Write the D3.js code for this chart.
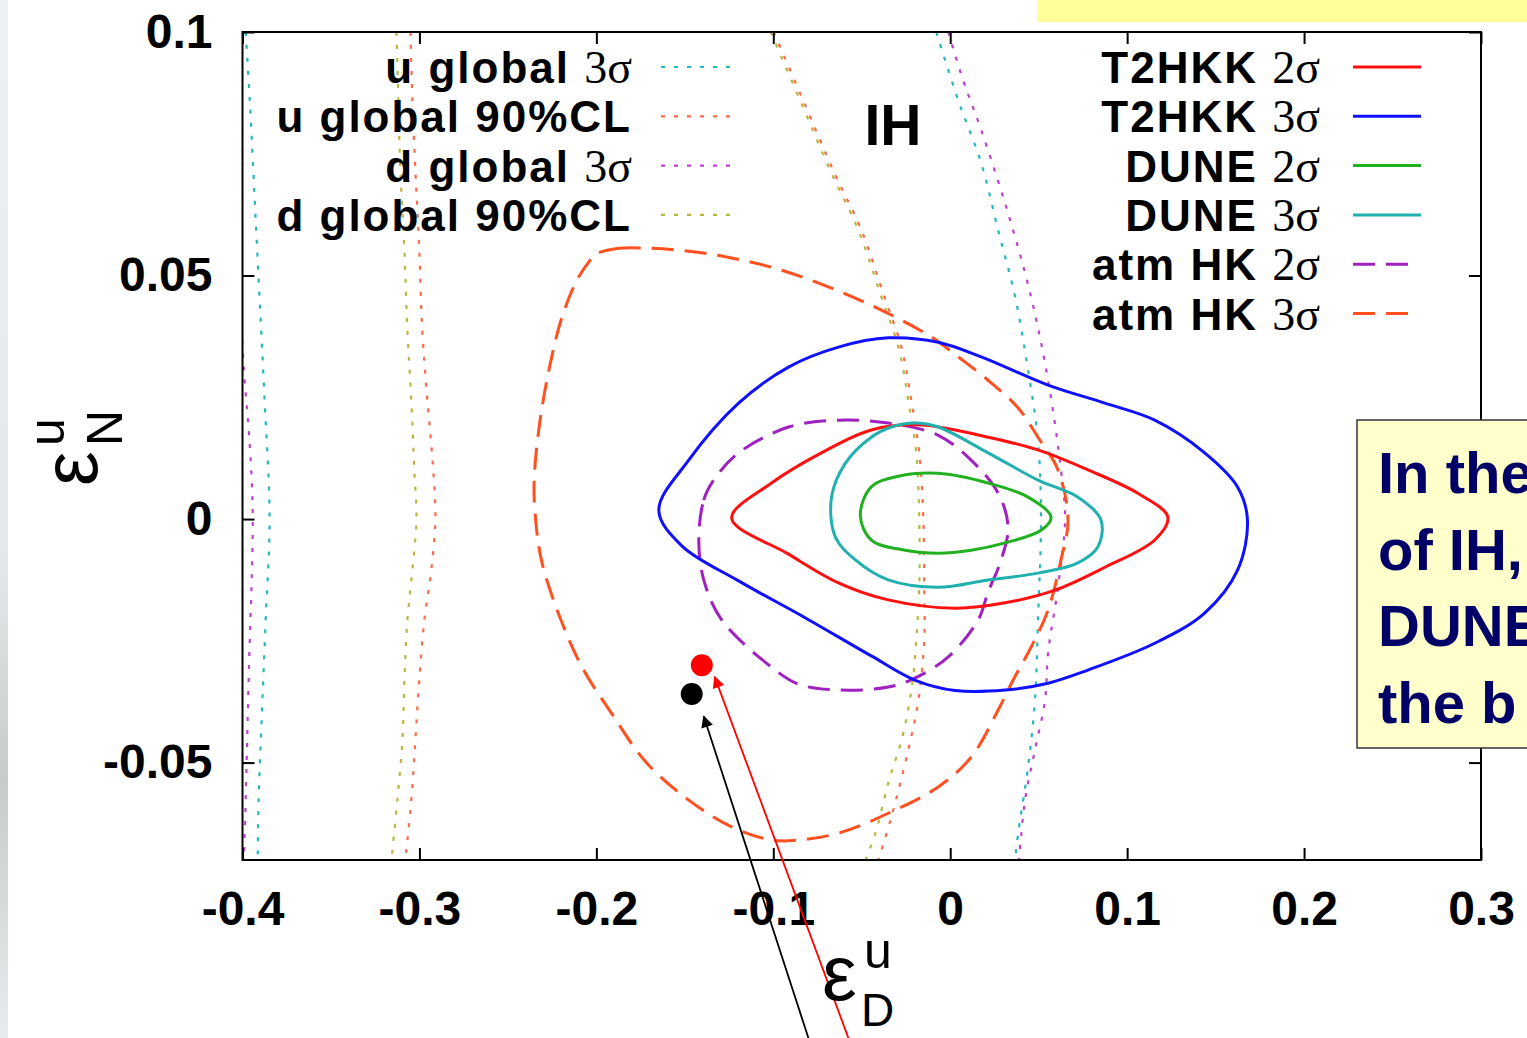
<!DOCTYPE html>
<html><head><meta charset="utf-8">
<script src="https://cdn.jsdelivr.net/npm/d3@7"></script>
<style>
html,body{margin:0;padding:0;background:#fff;overflow:hidden}
svg{display:block}
</style></head>
<body>
<svg id="c" width="1527" height="1038"></svg>
<script>
// ---------- data ----------
const xTickValues = [-0.4,-0.3,-0.2,-0.1,0,0.1,0.2,0.3];
const xTickLabels = ["-0.4","-0.3","-0.2","-0.1","0","0.1","0.2","0.3"];
const yTickValues = [-0.05,0,0.05,0.1];
const yTickLabels = ["-0.05","0","0.05","0.1"];

// closed contours
const t2hkk2 = [[-0.1235,0.0002],[-0.101,0.0074],[-0.0728,0.0136],[-0.0446,0.0183],[-0.0164,0.0193],[0.0214,0.0168],[0.0496,0.0142],[0.0778,0.0101],[0.106,0.0053],[0.123,0.0004],[0.1156,-0.0043],[0.0874,-0.0099],[0.0592,-0.0146],[0.031,-0.0172],[0.0028,-0.0183],[-0.035,-0.0166],[-0.0632,-0.0131],[-0.0914,-0.0072]];
const t2hkk3 = [[-0.1647,0.0018],[-0.1478,0.0121],[-0.1196,0.0238],[-0.0914,0.0312],[-0.0632,0.0353],[-0.035,0.0372],[-0.0068,0.0363],[0.0175,0.0333],[0.0553,0.0275],[0.0874,0.0238],[0.1156,0.0203],[0.1438,0.0136],[0.1624,0.0066],[0.168,-0.0002],[0.1624,-0.0105],[0.1438,-0.0193],[0.1156,-0.0255],[0.0778,-0.031],[0.0553,-0.0337],[0.031,-0.0351],[0.0028,-0.0352],[-0.0197,-0.0331],[-0.0446,-0.0281],[-0.0818,-0.0203],[-0.1196,-0.0127],[-0.1517,-0.0055]];
const dune2 = [[-0.0508,0.0008],[-0.0446,0.0066],[-0.0293,0.0088],[-0.0068,0.0094],[0.0214,0.0074],[0.044,0.0045],[0.057,0.0004],[0.0513,-0.0023],[0.031,-0.0049],[0.0118,-0.0064],[-0.0068,-0.007],[-0.0254,-0.0064],[-0.0446,-0.0043]];
const dune3 = [[-0.0333,0.0189],[-0.0197,0.0197],[-0.0068,0.0189],[0.0214,0.0136],[0.0496,0.008],[0.0722,0.0045],[0.0852,-0.0002],[0.0835,-0.0057],[0.0722,-0.009],[0.0496,-0.0111],[0.0214,-0.0125],[-0.0068,-0.014],[-0.035,-0.0125],[-0.0536,-0.0084],[-0.0649,-0.0037],[-0.0671,0.0045],[-0.0592,0.0115],[-0.0446,0.0168]];
const atmHK2 = [[-0.1421,-0.0043],[-0.1393,0.0039],[-0.1337,0.008],[-0.1196,0.0136],[-0.0914,0.0189],[-0.0632,0.0203],[-0.035,0.0197],[-0.0068,0.0172],[0.0118,0.0121],[0.0271,0.0053],[0.0327,-0.0016],[0.0288,-0.0084],[0.0214,-0.015],[0.0158,-0.0207],[-0.0011,-0.0283],[-0.0197,-0.0326],[-0.035,-0.0345],[-0.0632,-0.0351],[-0.0857,-0.0339],[-0.101,-0.0304],[-0.1292,-0.0207],[-0.1393,-0.0125]];
const atmHK3 = [[-0.2002,0.0544],[-0.1873,0.0556],[-0.1703,0.0556],[-0.1478,0.055],[-0.1235,0.0536],[-0.0953,0.0511],[-0.0671,0.0474],[-0.0389,0.0429],[-0.0107,0.0374],[0.0045,0.0333],[0.0214,0.0285],[0.0384,0.0228],[0.0496,0.0168],[0.0609,0.0101],[0.0666,-0.0002],[0.0626,-0.0084],[0.0553,-0.0187],[0.0457,-0.0263],[0.0355,-0.0331],[0.0271,-0.0392],[0.0118,-0.0489],[-0.0068,-0.055],[-0.035,-0.0604],[-0.0632,-0.0645],[-0.0857,-0.0659],[-0.101,-0.0659],[-0.1235,-0.0632],[-0.1478,-0.0577],[-0.172,-0.0499],[-0.1912,-0.04],[-0.2081,-0.0304],[-0.2211,-0.0197],[-0.2307,-0.009],[-0.2341,-0.001],[-0.2352,0.0072],[-0.2324,0.0187],[-0.2267,0.0308],[-0.2194,0.0415],[-0.2109,0.0491],[-0.2042,0.0528]];

// open global-fit boundaries (two branches each)
const uGlobal3Left  = [[-0.3982,0.1],[-0.3959,0.086],[-0.3931,0.0655],[-0.3903,0.045],[-0.3875,0.0244],[-0.3847,0],[-0.3869,-0.0207],[-0.3892,-0.0413],[-0.3909,-0.0577],[-0.3914,-0.07]];
const uGlobal3Right = [[-0.0079,0.1],[0.0045,0.086],[0.0175,0.0731],[0.0271,0.0593],[0.0367,0.0456],[0.044,0.0306],[0.0496,0.0162],[0.0513,0],[0.0496,-0.0207],[0.0479,-0.0372],[0.044,-0.0509],[0.0384,-0.0645],[0.0367,-0.07]];
const uGlobal90Left  = [[-0.3051,0.1],[-0.304,0.086],[-0.3023,0.0717],[-0.3001,0.0552],[-0.2984,0.0388],[-0.2955,0.0244],[-0.2922,0.0101],[-0.291,0],[-0.2933,-0.0105],[-0.2972,-0.0207],[-0.3001,-0.0331],[-0.3023,-0.0454],[-0.3046,-0.0577],[-0.308,-0.07]];
const uGlobal90Right = [[-0.0998,0.1],[-0.084,0.0867],[-0.0654,0.071],[-0.0502,0.0593],[-0.0372,0.0456],[-0.0276,0.0353],[-0.022,0.0244],[-0.0175,0.0136],[-0.0152,0],[-0.0147,-0.014],[-0.0147,-0.0248],[-0.018,-0.0372],[-0.0237,-0.0474],[-0.0333,-0.0612],[-0.0406,-0.07]];
const dGlobal3Left  = [[-0.402,0.05],[-0.4005,0.0388],[-0.3988,0.0285],[-0.3965,0.0183],[-0.3948,0.008],[-0.3942,0],[-0.3948,-0.0125],[-0.3959,-0.0248],[-0.3971,-0.0413],[-0.3982,-0.0577],[-0.3993,-0.07]];
const dGlobal3Right = [[-0.0011,0.1],[0.0073,0.0901],[0.0175,0.0799],[0.0327,0.0628],[0.0457,0.0456],[0.0553,0.0285],[0.0626,0.0101],[0.0649,0],[0.0609,-0.014],[0.0553,-0.0275],[0.0536,-0.0372],[0.0479,-0.0474],[0.0423,-0.0577],[0.0389,-0.07]];
const dGlobal90Left  = [[-0.313,0.1],[-0.3119,0.086],[-0.3108,0.0717],[-0.3085,0.0552],[-0.3068,0.0388],[-0.3046,0.0244],[-0.3029,0.0101],[-0.3017,0],[-0.304,-0.0105],[-0.3068,-0.0207],[-0.3085,-0.0331],[-0.3096,-0.0454],[-0.3125,-0.0577],[-0.3158,-0.07]];
const dGlobal90Right = [[-0.1015,0.1],[-0.0857,0.0867],[-0.0671,0.071],[-0.0519,0.0593],[-0.0389,0.0456],[-0.0293,0.0353],[-0.0237,0.0244],[-0.0192,0.0136],[-0.0175,0],[-0.0175,-0.014],[-0.0192,-0.0248],[-0.0214,-0.0337],[-0.0265,-0.0439],[-0.035,-0.0542],[-0.0423,-0.0645],[-0.0479,-0.07]];

// marked points and arrows (data coords)
const points = [{x:-0.1404,y:-0.0300,color:"#ff0000"},{x:-0.1461,y:-0.0359,color:"#000000"}];
const arrows = [
  {x0:-0.0801,y0:-0.1066,x1:-0.1393,y1:-0.0405,color:"#000000"},
  {x0:-0.0575,y0:-0.1066,x1:-0.1331,y1:-0.0324,color:"#ff0000"}
];

const leftLegend = [
  {name:"u global ", sig:"3σ", color:"#22b8c0"},
  {name:"u global 90%CL", sig:"", color:"#ff6a4a"},
  {name:"d global ", sig:"3σ", color:"#c040d0"},
  {name:"d global 90%CL", sig:"", color:"#b8b840"}
];
const rightLegend = [
  {name:"T2HKK ", sig:"2σ", color:"#ff1010", dash:null},
  {name:"T2HKK ", sig:"3σ", color:"#1010ff", dash:null},
  {name:"DUNE ", sig:"2σ", color:"#20b020", dash:null},
  {name:"DUNE ", sig:"3σ", color:"#20b0b0", dash:null},
  {name:"atm HK ", sig:"2σ", color:"#a020c0", dash:"22,11"},
  {name:"atm HK ", sig:"3σ", color:"#ff5020", dash:"22,11"}
];
const noteLines = ["In the", "of IH,", "DUNE", "the b"];

// ---------- drawing ----------
const svg = d3.select("#c");
const L = 242.5, R = 1481, T = 32, B = 860;
const x = d3.scaleLinear().domain([-0.4,0.3]).range([L,R]);
const y = d3.scaleLinear().domain([-0.07,0.1]).range([B,T]);
const FONT = "'Liberation Sans', Arial, sans-serif";
const SERIF = "'Liberation Serif', serif";

// left photo strip
const defs = svg.append("defs");
const g1 = defs.append("linearGradient").attr("id","strip").attr("x1",0).attr("y1",0).attr("x2",0).attr("y2",1);
g1.append("stop").attr("offset","0").attr("stop-color","#eef1f4");
g1.append("stop").attr("offset","0.55").attr("stop-color","#e4e6e8");
g1.append("stop").attr("offset","0.75").attr("stop-color","#c9cbc9");
g1.append("stop").attr("offset","1").attr("stop-color","#e8eaec");
svg.append("rect").attr("x",0).attr("y",0).attr("width",8).attr("height",1038).attr("fill","url(#strip)");

defs.append("clipPath").attr("id","plotclip").append("rect")
  .attr("x",L).attr("y",T).attr("width",R-L).attr("height",B-T);

// yellow header box (cut by page top)
svg.append("rect").attr("x",1037).attr("y",-10).attr("width",500).attr("height",32).attr("fill","#ffff99");

const plot = svg.append("g").attr("clip-path","url(#plotclip)");

const openLine = d3.line().x(d=>x(d[0])).y(d=>y(d[1])).curve(d3.curveCatmullRom.alpha(0.5));
const closedLine = d3.line().x(d=>x(d[0])).y(d=>y(d[1])).curve(d3.curveCatmullRomClosed.alpha(0.5));

// dotted global lines
const dotted = [
  [uGlobal3Left,"#22b8c0"],[uGlobal3Right,"#22b8c0"],
  [uGlobal90Left,"#ff6a4a"],[uGlobal90Right,"#ff6a4a"],
  [dGlobal3Left,"#c040d0"],[dGlobal3Right,"#c040d0"],
  [dGlobal90Left,"#b8b840"],[dGlobal90Right,"#b8b840"]
];
dotted.forEach(([d,c])=>{
  plot.append("path").attr("d",openLine(d)).attr("fill","none").attr("stroke",c)
    .attr("stroke-width",2.2).attr("stroke-dasharray","4,9");
});

const contours = [
  [atmHK3,"#ff5020","22,11",3],
  [atmHK2,"#a020c0","22,11",3],
  [t2hkk3,"#1010ff",null,3],
  [t2hkk2,"#ff1010",null,3],
  [dune3,"#20b0b0",null,3],
  [dune2,"#20b020",null,3]
];
contours.forEach(([d,c,dash,w])=>{
  plot.append("path").attr("d",closedLine(d)).attr("fill","none").attr("stroke",c)
    .attr("stroke-width",w).attr("stroke-dasharray",dash);
});

// axes
const axB = d3.axisBottom(x).tickValues(xTickValues).tickFormat((d,i)=>xTickLabels[i]).tickSizeInner(-12).tickSizeOuter(0).tickPadding(31);
const axT = d3.axisTop(x).tickValues(xTickValues).tickFormat("").tickSizeInner(-12).tickSizeOuter(0);
const axLft = d3.axisLeft(y).tickValues(yTickValues).tickFormat((d,i)=>yTickLabels[i]).tickSizeInner(-12).tickSizeOuter(0).tickPadding(30);
const axRt = d3.axisRight(y).tickValues(yTickValues).tickFormat("").tickSizeInner(-12).tickSizeOuter(0);
function styleAxis(g){
  g.select(".domain").remove();
  g.selectAll("line").attr("stroke","#000").attr("stroke-width",2);
  g.selectAll("text").attr("font-family",FONT).attr("font-weight","bold").attr("font-size",48).attr("fill","#000");
}
svg.append("g").attr("transform",`translate(0,${B})`).call(axB).call(styleAxis);
svg.append("g").attr("transform",`translate(0,${T})`).call(axT).call(styleAxis);
svg.append("g").attr("transform",`translate(${L},0)`).call(axLft).call(styleAxis);
svg.append("g").attr("transform",`translate(${R},0)`).call(axRt).call(styleAxis);

svg.append("rect").attr("x",L).attr("y",T).attr("width",R-L).attr("height",B-T)
  .attr("fill","none").attr("stroke","#000").attr("stroke-width",2);

// points
points.forEach(p=>{
  svg.append("circle").attr("cx",x(p.x)).attr("cy",y(p.y)).attr("r",11).attr("fill",p.color);
});

// arrows
arrows.forEach((a,i)=>{
  const mid = "ah"+i;
  defs.append("marker").attr("id",mid).attr("viewBox","0 0 10 10").attr("refX",9).attr("refY",5)
    .attr("markerWidth",13).attr("markerHeight",12).attr("markerUnits","userSpaceOnUse").attr("orient","auto")
    .append("path").attr("d","M0,0 L10,5 L0,10 z").attr("fill",a.color);
  svg.append("line").attr("x1",x(a.x0)).attr("y1",y(a.y0)).attr("x2",x(a.x1)).attr("y2",y(a.y1))
    .attr("stroke",a.color).attr("stroke-width",1.8).attr("marker-end",`url(#${mid})`);
});

// labels
svg.append("text").attr("x",893).attr("y",145).attr("text-anchor","middle")
  .attr("font-family",FONT).attr("font-weight","bold").attr("font-size",57).attr("fill","#000").text("IH");

// x title
svg.append("text").attr("x",822).attr("y",1000).attr("font-family",FONT).attr("font-size",78).attr("fill","#000").text("ε");
svg.append("text").attr("x",864).attr("y",968).attr("font-family",FONT).attr("font-size",50).attr("fill","#000").text("u");
svg.append("text").attr("x",861).attr("y",1026).attr("font-family",FONT).attr("font-size",46).attr("fill","#000").text("D");

// y title (rotated)
svg.append("text").attr("transform","translate(97,486) rotate(-90)").attr("font-family",FONT).attr("font-size",78).attr("fill","#000").text("ε");
svg.append("text").attr("transform","translate(64,446) rotate(-90)").attr("font-family",FONT).attr("font-size",50).attr("fill","#000").text("u");
svg.append("text").attr("transform","translate(122,446) rotate(-90)").attr("font-family",FONT).attr("font-size",50).attr("fill","#000").text("N");

// legends
const rowH = 49.3;
function legendText(xr, cy, d){
  const t = svg.append("text").attr("x",xr).attr("y",cy+16).attr("text-anchor","end")
    .attr("font-family",FONT).attr("font-weight","bold").attr("font-size",44)
    .attr("letter-spacing",2).attr("fill","#000");
  t.append("tspan").text(d.name);
  if(d.sig){ t.append("tspan").attr("font-family",SERIF).attr("font-weight","normal").attr("font-size",46).attr("letter-spacing",0).text(d.sig); }
}
leftLegend.forEach((d,i)=>{
  const cy = 67 + i*rowH;
  legendText(632, cy, d);
  svg.append("line").attr("x1",661).attr("x2",735).attr("y1",cy).attr("y2",cy)
    .attr("stroke",d.color).attr("stroke-width",2.2).attr("stroke-dasharray","4,9");
});
rightLegend.forEach((d,i)=>{
  const cy = 67 + i*rowH;
  legendText(1320, cy, d);
  svg.append("line").attr("x1",1353).attr("x2",d.dash?1415:1421).attr("y1",cy).attr("y2",cy)
    .attr("stroke",d.color).attr("stroke-width",3).attr("stroke-dasharray",d.dash);
});

// note box (cut by page edge, as in the slide)
svg.append("rect").attr("x",1357).attr("y",420).attr("width",200).attr("height",328)
  .attr("fill","#ffffcc").attr("stroke","#333").attr("stroke-width",1.5);
noteLines.forEach((s,i)=>{
  svg.append("text").attr("x",1378).attr("y",493 + i*76.5).attr("font-family",FONT)
    .attr("font-weight","bold").attr("font-size",58).attr("fill","#000066").text(s);
});
</script>
</body></html>
